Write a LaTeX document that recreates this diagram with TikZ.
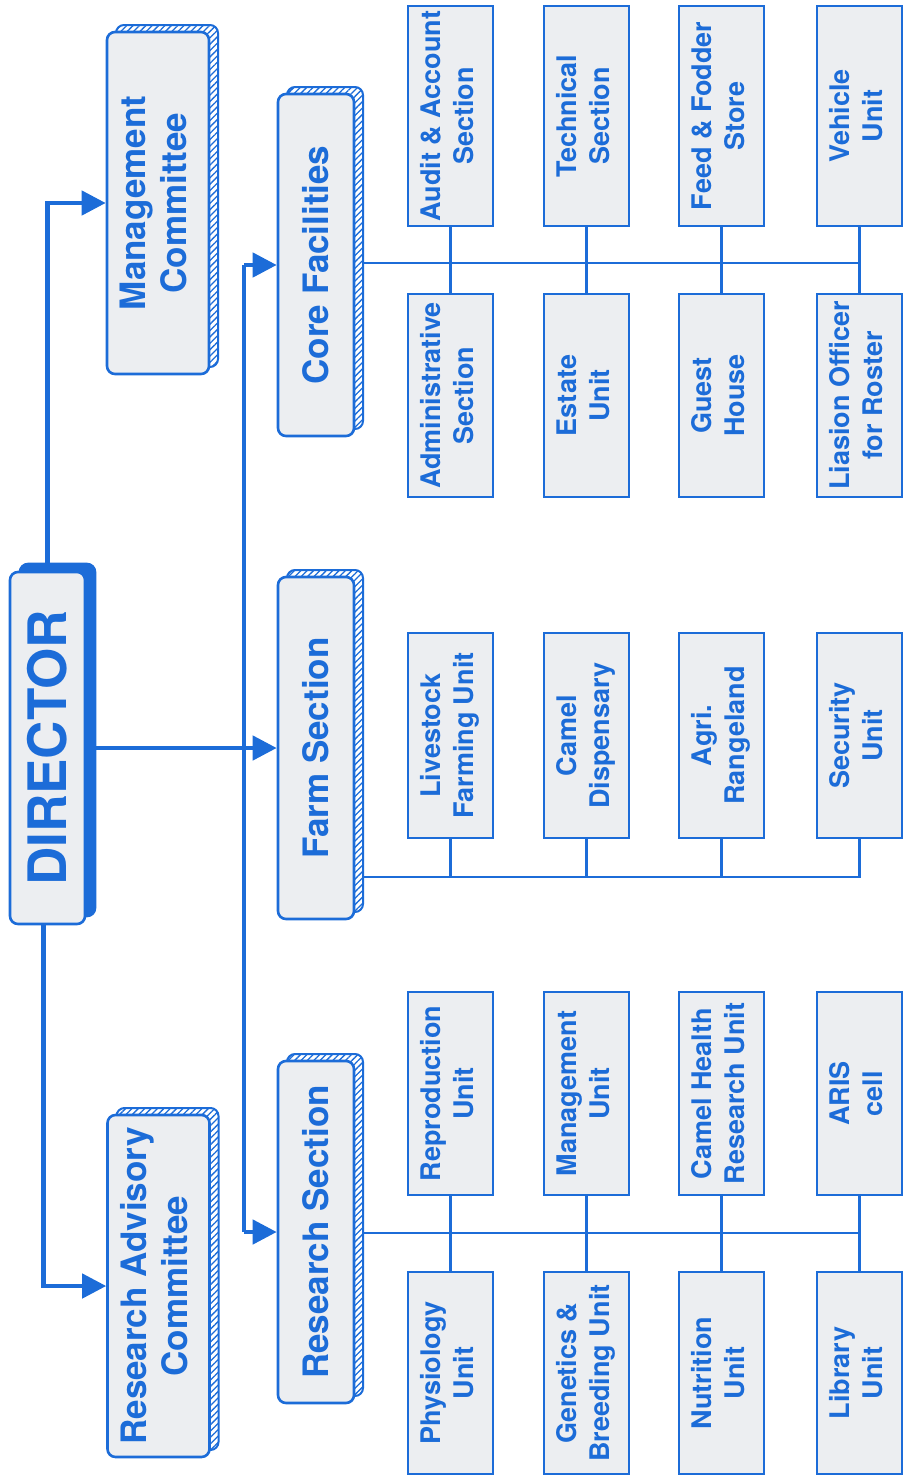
\documentclass[tikz,border=0pt]{standalone}
\usepackage{fontspec}
\setmainfont{TeX Gyre Heros}
\usepackage{graphicx}
\usetikzlibrary{arrows.meta,shadows,patterns.meta}
\definecolor{cblue}{RGB}{28,108,216}
\definecolor{cfill}{RGB}{236,238,241}
\newcommand{\rl}[1]{\rotatebox{90}{\begin{tabular}{@{}c@{}}#1\end{tabular}}}
\begin{document}
\begin{tikzpicture}[x=1pt,y=-1pt,
  hatchshadow/.style={general shadow={shadow xshift=9pt, shadow yshift=7pt, draw=cblue, line width=2pt, pattern={Lines[angle=45,distance=4.5pt,line width=1.3pt]}, pattern color=cblue}},
  unitbox/.style={draw=cblue, line width=2.6pt, fill=cfill, text=cblue, inner sep=0pt, minimum width=85pt, minimum height=204pt, font=\fontsize{27}{33}\selectfont\bfseries},
  secbox/.style={hatchshadow, draw=cblue, line width=2.6pt, fill=cfill, text=cblue, inner sep=0pt, rounded corners=8pt, minimum width=76pt, minimum height=342pt, font=\fontsize{35}{41}\selectfont\bfseries},
  commbox/.style={secbox, minimum width=102pt},
  dirbox/.style={general shadow={shadow xshift=10pt, shadow yshift=8pt, fill=cblue, draw=cblue, line width=2.6pt}, draw=cblue, line width=2.6pt, fill=cfill, text=cblue, inner sep=0pt, rounded corners=8pt, minimum width=75pt, minimum height=352pt, font=\fontsize{53}{60}\selectfont\bfseries},
  arr/.style={draw=cblue, line width=4.5pt, -{Triangle[length=24pt,width=24pt]}},
  mainline/.style={draw=cblue, line width=4.5pt},
  conn/.style={draw=cblue, line width=2.6pt},
]
\useasboundingbox (0,0) rectangle (904,1476);

% director and committees
\node[dirbox] (dir) at (47.5,748) {\rotatebox{90}{DIRECTOR}};
\node[commbox] (mc) at (158,203) {\rl{Management\\Committee}};
\node[commbox] (rac) at (158.5,1286) {\rl{Research Advisory\\Committee}};

% sections
\node[secbox] (cf) at (316,265) {\rotatebox{90}{Core Facilities}};
\node[secbox] (fs) at (316,748) {\rotatebox{90}{Farm Section}};
\node[secbox] (rs) at (316,1232) {\rotatebox{90}{Research Section}};

% core facilities units
\node[unitbox, minimum height=220pt] (ca1) at (450.5,116) {\rl{Audit \& Account\\Section}};
\node[unitbox, minimum height=220pt] (ca2) at (586.5,116) {\rl{Technical\\Section}};
\node[unitbox, minimum height=220pt] (ca3) at (721.5,116) {\rl{Feed \& Fodder\\Store}};
\node[unitbox, minimum height=220pt] (ca4) at (859.5,116) {\rl{Vehicle\\Unit}};
\node[unitbox, minimum height=203pt] (cb1) at (450.5,395.5) {\rl{Administrative\\Section}};
\node[unitbox, minimum height=203pt] (cb2) at (586.5,395.5) {\rl{Estate\\Unit}};
\node[unitbox, minimum height=203pt] (cb3) at (721.5,395.5) {\rl{Guest\\House}};
\node[unitbox, minimum height=203pt] (cb4) at (859.5,395.5) {\rl{Liasion Officer\\for Roster}};

% farm units
\node[unitbox, minimum height=205pt] (fa1) at (450.5,735.5) {\rl{Livestock\\Farming Unit}};
\node[unitbox, minimum height=205pt] (fa2) at (586.5,735.5) {\rl{Camel\\Dispensary}};
\node[unitbox, minimum height=205pt] (fa3) at (721.5,735.5) {\rl{Agri.\\Rangeland}};
\node[unitbox, minimum height=205pt] (fa4) at (859.5,735.5) {\rl{Security\\Unit}};

% research units
\node[unitbox, minimum height=203pt] (ra1) at (450.5,1093.5) {\rl{Reproduction\\Unit}};
\node[unitbox, minimum height=203pt] (ra2) at (586.5,1093.5) {\rl{Management\\Unit}};
\node[unitbox, minimum height=203pt] (ra3) at (721.5,1093.5) {\rl{Camel Health\\Research Unit}};
\node[unitbox, minimum height=203pt] (ra4) at (859.5,1093.5) {\rl{ARIS\\cell}};
\node[unitbox, minimum height=202pt] (rb1) at (450.5,1373) {\rl{Physiology\\Unit}};
\node[unitbox, minimum height=202pt] (rb2) at (586.5,1373) {\rl{Genetics \&\\Breeding Unit}};
\node[unitbox, minimum height=202pt] (rb3) at (721.5,1373) {\rl{Nutrition\\Unit}};
\node[unitbox, minimum height=202pt] (rb4) at (859.5,1373) {\rl{Library\\Unit}};

% main connectors
\coordinate (sp) at (244,0);
\draw[arr] (dir.north) |- (mc.west);
\draw[arr] ([xshift=-4pt]dir.south) |- (rac.west);
\draw[arr] ([xshift=10pt]dir.east) -- (fs.west);
\draw[mainline] (sp |- cf.west) -- (sp |- rs.west);
\draw[arr] (sp |- cf.west) -- (cf.west);
\draw[arr] (sp |- rs.west) -- (rs.west);

% buses
\coordinate (cbus) at (0,263);
\coordinate (fbus) at (0,877);
\coordinate (rbus) at (0,1233);
\draw[conn] ([xshift=9pt]cf.east |- cbus) -- (ca4.south |- cbus);
\draw[conn] (ca1.south) -- (cb1.north);
\draw[conn] (ca2.south) -- (cb2.north);
\draw[conn] (ca3.south) -- (cb3.north);
\draw[conn] (ca4.south) -- (cb4.north);

\draw[conn] ([xshift=9pt]fs.east |- fbus) -- (fa4.south |- fbus) -- (fa4.south);
\draw[conn] (fa1.south) -- (fa1.south |- fbus);
\draw[conn] (fa2.south) -- (fa2.south |- fbus);
\draw[conn] (fa3.south) -- (fa3.south |- fbus);

\draw[conn] ([xshift=9pt]rs.east |- rbus) -- (ra4.south |- rbus);
\draw[conn] (ra1.south) -- (rb1.north);
\draw[conn] (ra2.south) -- (rb2.north);
\draw[conn] (ra3.south) -- (rb3.north);
\draw[conn] (ra4.south) -- (rb4.north);
\end{tikzpicture}
\end{document}
